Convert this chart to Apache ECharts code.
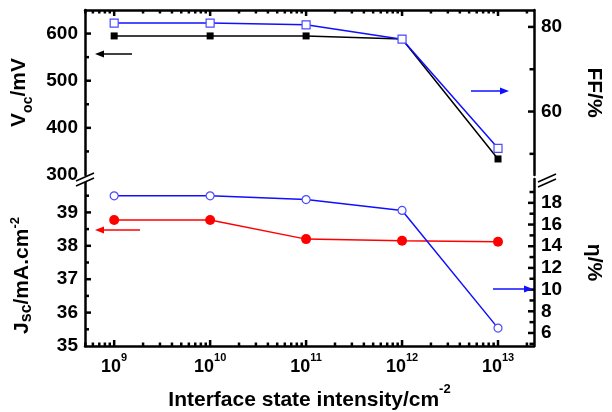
<!DOCTYPE html>
<html><head><meta charset="utf-8">
<script src="https://cdn.jsdelivr.net/npm/echarts@6/dist/echarts.min.js"></script>
<style>html,body{margin:0;padding:0;background:#fff}#c{width:612px;height:412px}</style>
</head><body><div id="c"></div>
<script>
// ---- data ----
const xValues = [1e9, 1e10, 1e11, 1e12, 1e13];
const vocValues = [595, 595, 595, 588.5, 334];
const ffValues = [80.9, 80.9, 80.5, 77.1, 51.3];
const jscValues = [38.77, 38.77, 38.2, 38.15, 38.12];
const etaValues = [18.65, 18.65, 18.3, 17.3, 6.45];
// ---- ticks ----
const xMajorTicks = [1e9, 1e10, 1e11, 1e12, 1e13];
const xMinorTicks = [5e8, 6e8, 7e8, 8e8, 9e8,
  2e9, 3e9, 4e9, 5e9, 6e9, 7e9, 8e9, 9e9,
  2e10, 3e10, 4e10, 5e10, 6e10, 7e10, 8e10, 9e10,
  2e11, 3e11, 4e11, 5e11, 6e11, 7e11, 8e11, 9e11,
  2e12, 3e12, 4e12, 5e12, 6e12, 7e12, 8e12, 9e12,
  2e13];
const vocTickLabels = [300, 400, 500, 600];
const vocMajorTicks = [400, 500, 600];
const vocMinorTicks = [350, 450, 550];
const ffTickLabels = [60, 80];
const ffMajorTicks = [60, 80];
const ffMinorTicks = [50, 70];
const jscTickLabels = [35, 36, 37, 38, 39];
const jscMajorTicks = [36, 37, 38, 39];
const jscMinorTicks = [35.5, 36.5, 37.5, 38.5, 39.5];
const etaTickLabels = [6, 8, 10, 12, 14, 16, 18];
const etaMajorTicks = [6, 8, 10, 12, 14, 16, 18];
const etaMinorTicks = [5, 7, 9, 11, 13, 15, 17, 19];

const FONT = 'Liberation Sans, Arial, sans-serif';
const xMin = Math.pow(10, 8.696), xMax = Math.pow(10, 13.375);
const vocRange = [300, 650], ffRange = [45, 84], jscRange = [35, 40], etaRange = [4.8, 20.2];
const BLUE = '#1010ff', MBLUE = '#4a4aff', RED = '#ff0000';

const chart = echarts.init(document.getElementById('c'), null, {renderer: 'canvas'});

function yMain(grid, pos, range, labels, name, nameOpts) {
  return Object.assign({
    type: 'value', gridIndex: grid, position: pos, min: range[0], max: range[1],
    axisLine: {show: true, onZero: false, lineStyle: {color: '#000', width: 2.5}},
    axisTick: {show: false},
    axisLabel: {customValues: labels, color: '#000', fontFamily: FONT, fontWeight: 'bold', fontSize: 19, margin: 7},
    splitLine: {show: false},
    name: name, nameLocation: 'middle'
  }, nameOpts);
}
// tick marks drawn through the axes' own scales (custom series)
function tickSeries(xIdx, yIdx, axis, values, anchor, dir, len) {
  return {
    type: 'custom', coordinateSystem: 'cartesian2d', xAxisIndex: xIdx, yAxisIndex: yIdx,
    silent: true, z: 10,
    data: values.map(v => axis === 'x' ? [v, anchor] : [anchor, v]),
    renderItem: function (params, api) {
      const p = api.coord([api.value(0), api.value(1)]);
      const shape = axis === 'x'
        ? {x1: p[0], y1: p[1], x2: p[0], y2: p[1] + dir * len}
        : {x1: p[0], y1: p[1], x2: p[0] + dir * len, y2: p[1]};
      return {type: 'line', shape: shape, style: {stroke: '#000', lineWidth: 2.5}};
    }
  };
}
const supRich = {
  a: {fontFamily: FONT, fontWeight: 'bold', fontSize: 21, color: '#000', lineHeight: 28, verticalAlign: 'bottom'},
  c: {fontFamily: FONT, fontWeight: 'bold', fontSize: 13, color: '#000', lineHeight: 13, verticalAlign: 'top'}
};
const subRich = {
  a: {fontFamily: FONT, fontWeight: 'bold', fontSize: 21, color: '#000', lineHeight: 26, verticalAlign: 'top'},
  b: {fontFamily: FONT, fontWeight: 'bold', fontSize: 14, color: '#000', lineHeight: 14, verticalAlign: 'bottom'}
};
const jscRich = {
  a: {fontFamily: FONT, fontWeight: 'bold', fontSize: 21, color: '#000', lineHeight: 26, verticalAlign: 'middle'},
  b: {fontFamily: FONT, fontWeight: 'bold', fontSize: 16, color: '#000', lineHeight: 16, verticalAlign: 'bottom'},
  c: {fontFamily: FONT, fontWeight: 'bold', fontSize: 13, color: '#000', lineHeight: 13, verticalAlign: 'top'}
};

function arrow(x1, x2, y, color) {
  const dir = x2 > x1 ? 1 : -1;
  return [
    {type: 'line', shape: {x1: x1, y1: y, x2: x2 - dir * 6, y2: y}, style: {stroke: color, lineWidth: 1.5}, z: 50},
    {type: 'polygon', shape: {points: [[x2, y], [x2 - dir * 9, y - 3.5], [x2 - dir * 9, y + 3.5]]}, style: {fill: color}, z: 50}
  ];
}
function brk(cx, cy) {
  const p1 = [cx - 9, cy + 4], p2 = [cx + 9, cy - 4];
  return [
    {type: 'polygon', shape: {points: [[p1[0], p1[1]], [p2[0], p2[1]], [p2[0], p2[1] + 5], [p1[0], p1[1] + 5]]}, style: {fill: '#fff'}, z: 60},
    {type: 'line', shape: {x1: p1[0], y1: p1[1], x2: p2[0], y2: p2[1]}, style: {stroke: '#000', lineWidth: 1.6}, z: 61},
    {type: 'line', shape: {x1: p1[0], y1: p1[1] + 5, x2: p2[0], y2: p2[1] + 5}, style: {stroke: '#000', lineWidth: 1.6}, z: 61}
  ];
}

const option = {
  animation: false,
  backgroundColor: '#fff',
  grid: [
    {left: 85, right: 65, top: 10, height: 165, containLabel: false},
    {left: 85, right: 65, top: 179, height: 169, containLabel: false}
  ],
  xAxis: [
    {type: 'log', logBase: 10, gridIndex: 0, position: 'top', min: xMin, max: xMax,
     axisLine: {show: true, onZero: false, lineStyle: {color: '#000', width: 2.5}},
     axisTick: {show: false}, axisLabel: {show: false}, splitLine: {show: false}},
    {type: 'log', logBase: 10, gridIndex: 1, position: 'bottom', min: xMin, max: xMax,
     axisLine: {show: true, onZero: false, lineStyle: {color: '#000', width: 2.5}},
     axisTick: {show: false},
     axisLabel: {customValues: xMajorTicks, margin: 6,
       formatter: function (v) { return '{b|10}{s|' + Math.round(Math.log10(v)) + '}'; },
       rich: {
         b: {fontFamily: FONT, fontWeight: 'bold', fontSize: 18, color: '#000', lineHeight: 24, verticalAlign: 'bottom'},
         s: {fontFamily: FONT, fontWeight: 'bold', fontSize: 11, color: '#000', lineHeight: 11, verticalAlign: 'top'}
       }},
     splitLine: {show: false},
     name: '{a|Interface state intensity/cm}{c|-2}', nameLocation: 'middle', nameGap: 37,
     nameTextStyle: {rich: supRich}}
  ],
  yAxis: [
    yMain(0, 'left', vocRange, vocTickLabels, '{a|V}{b|oc}{a|/mV}',
      {nameGap: 50, nameRotate: 90, nameTextStyle: {rich: subRich}}),
    yMain(0, 'right', ffRange, ffTickLabels, '{a|FF/%}',
      {nameGap: 44, nameRotate: -90, nameTextStyle: {rich: subRich}}),
    yMain(1, 'left', jscRange, jscTickLabels, '{a|J}{b|sc}{a|/mA.cm}{c|-2}',
      {nameGap: 50, nameRotate: 90, nameTextStyle: {rich: jscRich, padding: [0, 26, 0, 0]}}),
    yMain(1, 'right', etaRange, etaTickLabels, '{a|η/%}',
      {nameGap: 44, nameRotate: -90, nameTextStyle: {rich: subRich}})
  ],
  series: [
    {type: 'line', name: 'Voc', xAxisIndex: 0, yAxisIndex: 0,
     data: xValues.map((x, i) => [x, vocValues[i]]),
     symbol: 'rect', symbolSize: 7, z: 3,
     lineStyle: {color: '#000', width: 1.5}, itemStyle: {color: '#000'}},
    {type: 'line', name: 'FF', xAxisIndex: 0, yAxisIndex: 1,
     data: xValues.map((x, i) => [x, ffValues[i]]),
     symbol: 'rect', symbolSize: 8, z: 4,
     lineStyle: {color: BLUE, width: 1.5}, itemStyle: {color: '#fff', borderColor: MBLUE, borderWidth: 1.2}},
    {type: 'line', name: 'Jsc', xAxisIndex: 1, yAxisIndex: 2,
     data: xValues.map((x, i) => [x, jscValues[i]]),
     symbol: 'circle', symbolSize: 10, z: 3,
     lineStyle: {color: RED, width: 1.5}, itemStyle: {color: RED}},
    {type: 'line', name: 'eta', xAxisIndex: 1, yAxisIndex: 3,
     data: xValues.map((x, i) => [x, etaValues[i]]),
     symbol: 'circle', symbolSize: 8, z: 4,
     lineStyle: {color: BLUE, width: 1.5}, itemStyle: {color: '#fff', borderColor: MBLUE, borderWidth: 1.2}},
    // tick marks
    tickSeries(0, 0, 'x', xMajorTicks, vocRange[1], 1, 6),
    tickSeries(0, 0, 'x', xMinorTicks, vocRange[1], 1, 3.5),
    tickSeries(1, 2, 'x', xMajorTicks, jscRange[0], -1, 6),
    tickSeries(1, 2, 'x', xMinorTicks, jscRange[0], -1, 3.5),
    tickSeries(0, 0, 'y', vocMajorTicks, xMin, 1, 6),
    tickSeries(0, 0, 'y', vocMinorTicks, xMin, 1, 4),
    tickSeries(0, 1, 'y', ffMajorTicks, xMax, -1, 6),
    tickSeries(0, 1, 'y', ffMinorTicks, xMax, -1, 4.5),
    tickSeries(1, 2, 'y', jscMajorTicks, xMin, 1, 6),
    tickSeries(1, 2, 'y', jscMinorTicks, xMin, 1, 4),
    tickSeries(1, 3, 'y', etaMajorTicks, xMax, -1, 6),
    tickSeries(1, 3, 'y', etaMinorTicks, xMax, -1, 4.5)
  ],
  graphic: [].concat(
    arrow(132, 95, 54, '#000'),
    arrow(471, 509, 91, BLUE),
    arrow(140, 95, 230, RED),
    arrow(493, 533, 289, BLUE),
    brk(85, 177),
    brk(547, 178)
  )
};
chart.setOption(option);
</script>
</body></html>
